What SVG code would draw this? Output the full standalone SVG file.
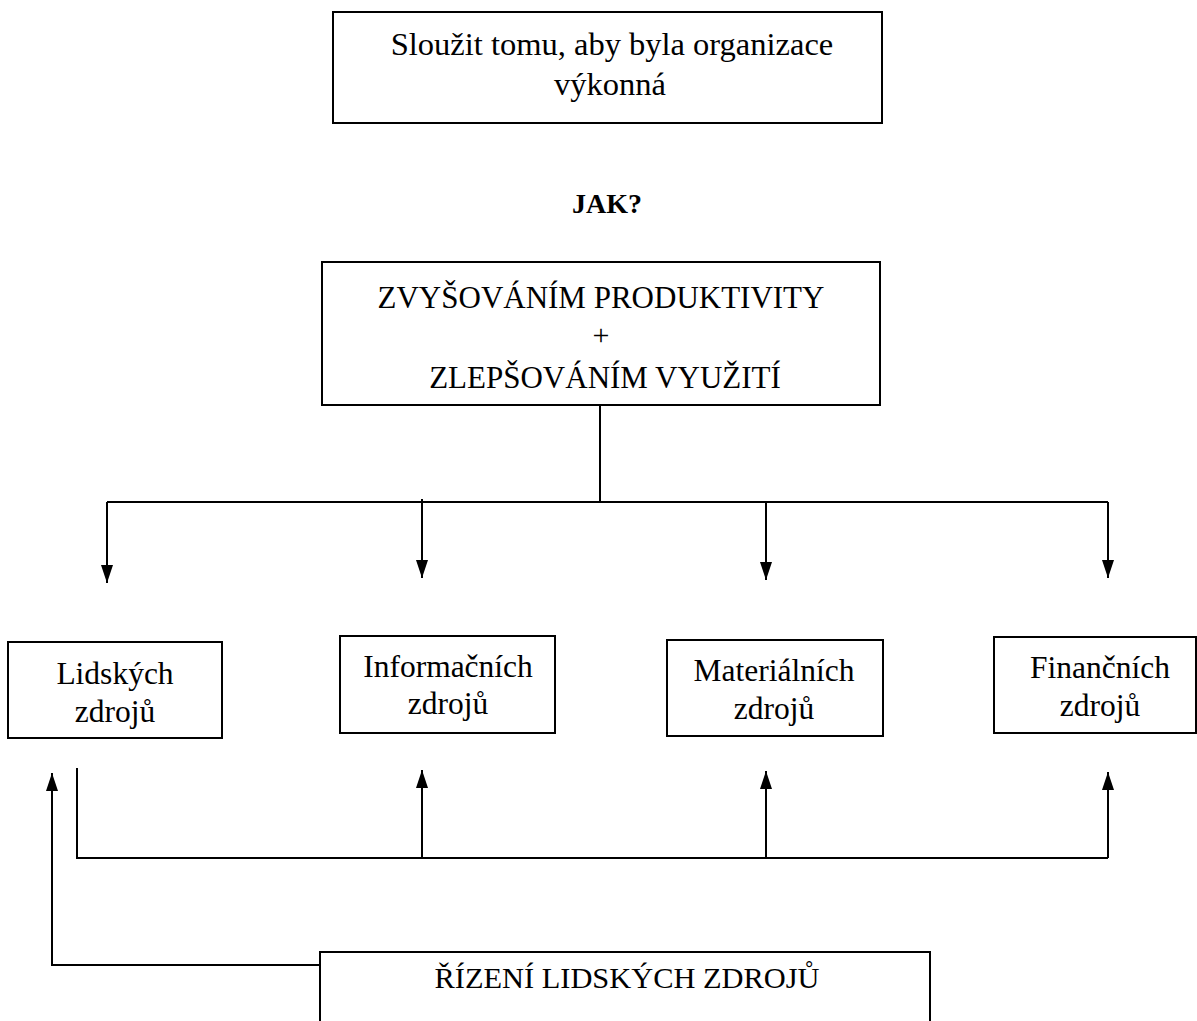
<svg xmlns="http://www.w3.org/2000/svg" width="1197" height="1021" viewBox="0 0 1197 1021">
  <style>
    .box { fill: #fff; stroke: #000; stroke-width: 2; }
    .t { font-family: "Liberation Serif", "DejaVu Serif", "Times New Roman", serif; fill: #000; text-anchor: middle; }
    .top { font-size: 32.5px; }
    .big { font-size: 31px; }
    .mid { font-size: 31.5px; }
    .wire { fill: none; stroke: #000; stroke-width: 2; }
  </style>
  <defs>
    <marker id="arrowUp" viewBox="0 0 12 18" refX="6" refY="0" markerWidth="12" markerHeight="18" markerUnits="userSpaceOnUse" orient="0">
      <path d="M6,0 L12,18 L0,18 Z" fill="#000"/>
    </marker>
    <marker id="arrowDown" viewBox="0 0 12 18" refX="6" refY="18" markerWidth="12" markerHeight="18" markerUnits="userSpaceOnUse" orient="0">
      <path d="M0,0 L12,0 L6,18 Z" fill="#000"/>
    </marker>
  </defs>

  <rect width="1197" height="1021" fill="#fff"/>

  <!-- goal -->
  <g id="goal">
    <rect class="box" x="333" y="12" width="549" height="111"/>
    <text class="t top" x="612" y="55">Sloužit tomu, aby byla organizace</text>
    <text class="t top" x="610" y="95">výkonná</text>
  </g>

  <g id="question">
    <text class="t" x="607" y="213" font-size="28" font-weight="bold">JAK?</text>
  </g>

  <!-- means -->
  <g id="means">
    <rect class="box" x="322" y="262" width="558" height="143"/>
    <text class="t big" x="601" y="308">ZVYŠOVÁNÍM PRODUKTIVITY</text>
    <text class="t" x="601" y="345" font-size="30">+</text>
    <text class="t big" x="605" y="388">ZLEPŠOVÁNÍM VYUŽITÍ</text>
  </g>

  <!-- resource boxes -->
  <g id="human">
    <rect class="box" x="8" y="642" width="214" height="96"/>
    <text class="t mid" x="115" y="684">Lidských</text>
    <text class="t mid" x="115" y="722">zdrojů</text>
  </g>
  <g id="information">
    <rect class="box" x="340" y="636" width="215" height="97"/>
    <text class="t mid" x="448" y="677">Informačních</text>
    <text class="t mid" x="448" y="714">zdrojů</text>
  </g>
  <g id="material">
    <rect class="box" x="667" y="640" width="216" height="96"/>
    <text class="t mid" x="774" y="681">Materiálních</text>
    <text class="t mid" x="774" y="719">zdrojů</text>
  </g>
  <g id="financial">
    <rect class="box" x="994" y="637" width="202" height="96"/>
    <text class="t mid" x="1100" y="678">Finančních</text>
    <text class="t mid" x="1100" y="716">zdrojů</text>
  </g>

  <!-- HR management -->
  <g id="hrm">
    <rect class="box" x="320" y="952" width="610" height="80"/>
    <text class="t" x="627" y="988" font-size="30" textLength="385" lengthAdjust="spacingAndGlyphs">ŘÍZENÍ LIDSKÝCH ZDROJŮ</text>
  </g>

  <!-- connectors -->
  <g id="connectors">
    <path class="wire" d="M600,405 V502"/>
    <path class="wire" d="M107,502 H1108"/>
    <path class="wire" d="M107,502 V583" marker-end="url(#arrowDown)"/>
    <path class="wire" d="M422,499 V578" marker-end="url(#arrowDown)"/>
    <path class="wire" d="M766,502 V580" marker-end="url(#arrowDown)"/>
    <path class="wire" d="M1108,502 V578" marker-end="url(#arrowDown)"/>

    <path class="wire" d="M77,768 V858 H1108"/>
    <path class="wire" d="M422,858 V770" marker-end="url(#arrowUp)"/>
    <path class="wire" d="M766,858 V771" marker-end="url(#arrowUp)"/>
    <path class="wire" d="M1108,858 V772" marker-end="url(#arrowUp)"/>

    <path class="wire" d="M320,965 H52 V773" marker-end="url(#arrowUp)"/>
  </g>
</svg>
